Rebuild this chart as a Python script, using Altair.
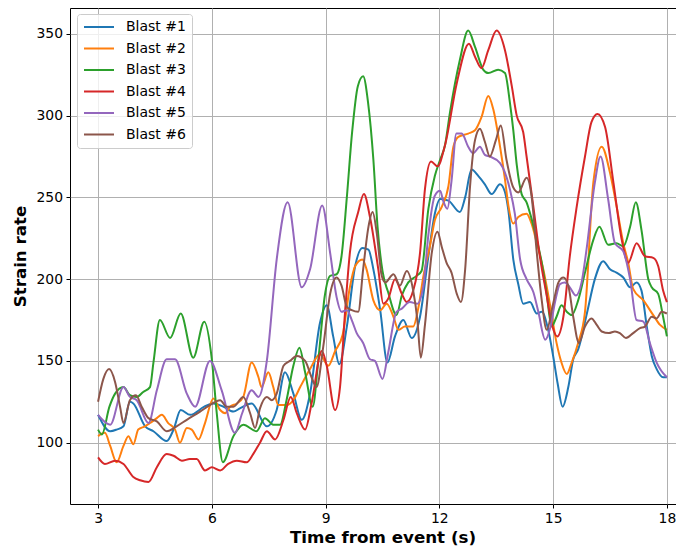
import altair as alt
import pandas as pd

names = ["Blast #1", "Blast #2", "Blast #3", "Blast #4", "Blast #5", "Blast #6"]
colors = ["#1f77b4", "#ff7f0e", "#2ca02c", "#d62728", "#9467bd", "#8c564b"]
x_ticks = [3, 6, 9, 12, 15, 18]
y_ticks = [100, 150, 200, 250, 300, 350]

t1 = [3.0,3.32,3.49,3.67,3.84,3.93,4.24,4.46,4.81,4.99,5.18,5.43,5.80,6.04,6.30,6.57,6.74,7.05,7.45,7.71,7.93,8.15,8.37,8.59,8.85,9.03,9.2,9.36,9.56,9.78,9.97,10.13,10.26,10.44,10.63,10.83,11.05,11.27,11.49,11.71,11.88,12.02,12.24,12.54,12.68,12.85,13.03,13.2,13.38,13.6,13.72,13.82,13.95,14.08,14.21,14.39,14.57,14.70,14.87,15.0,15.12,15.25,15.40,15.53,15.66,15.89,16.10,16.32,16.50,16.67,16.85,17.03,17.20,17.33,17.47,17.60,17.73,17.90,18.0]
v1 = [117,107,108,110,125,124,110,107,101,108,120,117,122,124,122,119,121,124,110,120,143,130,114,130,173,184,165,148,171,208,219,218,206,181,149,165,175,164,177,214,240,249,248,241,250,267,263,258,252,258,254,242,212,197,185,186,179,180,169,153,136,122,134,151,157,179,200,211,206,204,201,195,198,193,171,153,145,140,140]

t2 = [3.0,3.18,3.32,3.49,3.67,3.80,3.93,4.06,4.24,4.37,4.55,4.68,4.85,5.03,5.16,5.34,5.47,5.65,5.82,6.04,6.22,6.35,6.48,6.66,6.83,7.05,7.23,7.31,7.49,7.62,7.75,7.97,8.15,8.33,8.59,8.85,9.07,9.25,9.45,9.64,9.78,9.97,10.08,10.26,10.44,10.61,10.79,10.92,11.09,11.31,11.45,11.58,11.75,11.88,12.06,12.24,12.37,12.5,12.76,12.94,13.11,13.29,13.42,13.6,13.73,13.82,13.95,14.08,14.30,14.43,14.57,14.74,14.92,15.09,15.22,15.36,15.49,15.66,15.84,16.06,16.28,16.5,16.67,16.85,16.98,17.11,17.38,17.64,17.82,18.0]
v2 = [104,106,98,88,98,104,99,108,110,112,115,117,112,108,100,109,108,102,112,127,120,118,122,124,128,149,140,134,143,134,123,123,126,134,145,154,147,156,166,195,208,212,206,187,181,185,177,169,171,171,183,202,220,236,244,257,281,287,289,291,299,312,304,281,261,245,234,238,240,234,222,206,184,161,149,142,149,161,180,259,281,265,245,222,210,194,187,178,172,169]

t3 = [3.0,3.1,3.3,3.45,3.67,3.84,4.02,4.19,4.37,4.46,4.63,4.9,5.18,5.51,5.80,6.0,6.13,6.29,6.57,6.83,7.18,7.40,7.62,7.80,7.97,8.15,8.31,8.46,8.66,8.81,8.98,9.12,9.29,9.42,9.56,9.7,9.85,9.99,10.12,10.26,10.37,10.5,10.65,10.87,11.01,11.18,11.4,11.53,11.71,11.88,12.02,12.15,12.28,12.54,12.76,12.94,13.16,13.29,13.55,13.73,13.86,13.95,14.04,14.17,14.30,14.43,14.57,14.7,14.83,14.96,15.09,15.22,15.36,15.49,15.66,15.84,16.06,16.22,16.45,16.67,16.85,17.03,17.18,17.33,17.51,17.6,17.77,17.9,18.0]
v3 = [108,105,122,130,134,129,128,131,134,149,175,164,179,152,174,151,118,88,104,111,107,115,111,111,126,147,158,143,122,151,190,202,203,214,250,290,318,324,308,273,232,205,192,178,190,198,202,205,243,263,273,282,302,334,352,342,328,326,328,326,308,291,270,252,247,237,224,210,191,171,177,184,180,178,187,204,224,232,221,222,220,232,247,230,200,195,191,177,165]

t4 = [3.0,3.18,3.45,3.67,3.93,4.11,4.33,4.55,4.81,4.99,5.21,5.42,5.60,5.82,6.0,6.22,6.43,6.66,6.92,7.09,7.27,7.45,7.67,7.89,8.08,8.24,8.46,8.63,8.90,9.03,9.25,9.38,9.51,9.64,9.86,10.01,10.17,10.39,10.52,10.65,10.83,11.01,11.14,11.31,11.49,11.62,11.78,11.95,12.15,12.46,12.78,12.94,13.11,13.29,13.51,13.73,13.91,14.04,14.21,14.30,14.48,14.65,14.83,14.96,15.11,15.27,15.44,15.62,15.84,16.01,16.17,16.37,16.59,16.81,16.98,17.2,17.42,17.64,17.77,17.90,18.0]
v4 = [91,87,89,87,79,77,76,85,93,92,89,90,90,83,85,83,87,89,88,93,100,107,102,114,128,118,108,124,156,147,120,134,179,216,241,252,238,206,185,188,200,191,186,193,216,255,272,269,282,320,344,336,329,340,352,340,318,300,290,275,244,214,190,173,165,177,214,244,275,296,301,293,259,224,210,222,214,213,208,193,186]

t5 = [3.0,3.32,3.67,3.84,4.02,4.33,4.55,4.81,5.03,5.34,5.56,5.95,6.26,6.61,6.80,7.05,7.23,7.45,7.71,8.0,8.37,8.59,8.91,9.12,9.29,9.42,9.56,9.69,9.82,9.99,10.17,10.3,10.5,10.65,10.87,11.01,11.22,11.42,11.58,11.71,11.88,12.02,12.1,12.21,12.32,12.45,12.59,12.76,12.89,13.07,13.2,13.33,13.6,13.86,13.99,14.13,14.30,14.48,14.61,14.79,14.92,15.05,15.18,15.31,15.44,15.6,15.75,15.88,16.10,16.25,16.45,16.63,16.85,17.03,17.20,17.38,17.55,17.73,18.0]
v5 = [117,111,134,128,126,112,132,151,151,130,122,150,132,106,118,132,128,150,212,247,195,206,245,216,189,180,181,175,167,161,151,150,139,155,180,182,186,185,196,227,251,254,248,243,260,289,289,281,277,281,276,275,271,255,240,212,200,192,180,163,170,186,197,198,195,190,198,218,259,275,249,222,217,200,175,174,161,149,140]

t6 = [3.0,3.14,3.29,3.45,3.58,3.67,3.84,4.0,4.15,4.33,4.55,4.81,5.07,5.34,5.69,5.95,6.22,6.39,6.57,6.83,7.01,7.14,7.27,7.45,7.58,7.71,7.89,8.06,8.24,8.46,8.63,8.76,8.94,9.12,9.29,9.42,9.56,9.69,9.86,9.99,10.13,10.24,10.35,10.48,10.57,10.79,10.96,11.14,11.31,11.42,11.51,11.62,11.8,11.95,12.06,12.19,12.32,12.46,12.57,12.68,12.81,12.94,13.07,13.2,13.33,13.49,13.62,13.77,13.95,14.08,14.30,14.43,14.57,14.7,14.83,15.0,15.14,15.27,15.4,15.53,15.68,15.84,16.01,16.15,16.28,16.47,16.63,16.76,16.92,17.11,17.29,17.42,17.6,17.73,17.86,18.0]
v6 = [125,139,145,137,122,112,126,129,122,115,113,107,110,114,119,123,126,122,122,128,118,109,121,128,126,130,147,150,153,150,140,134,159,191,201,196,183,181,180,206,232,241,228,202,198,203,196,205,193,175,152,172,216,229,220,210,204,191,186,206,257,285,292,284,275,285,294,273,256,253,262,251,216,187,169,185,198,201,196,177,161,171,176,172,168,167,168,167,164,167,170,171,177,176,180,179]

rows = []
for name, ts, vs in zip(names, [t1, t2, t3, t4, t5, t6], [v1, v2, v3, v4, v5, v6]):
    n = min(len(ts), len(vs))
    for i in range(n):
        rows.append({"t": ts[i], "v": vs[i], "series": name, "order": i})
df = pd.DataFrame(rows)

FONT = "DejaVu Sans"

chart = alt.Chart(df).mark_line(strokeWidth=2, interpolate="monotone", clip=True).encode(
    x=alt.X("t:Q",
            scale=alt.Scale(domain=[2.26, 18.24], nice=False, zero=False),
            axis=alt.Axis(values=x_ticks, format="d", title="Time from event (s)",
                          titleX=312.5, titleY=33, titleBaseline="middle")),
    y=alt.Y("v:Q",
            scale=alt.Scale(domain=[62.5, 365.8], nice=False, zero=False),
            axis=alt.Axis(values=y_ticks, format="d", title="Strain rate",
                          titleX=-50, titleY=248, titleBaseline="middle")),
    color=alt.Color("series:N", title=None,
                    scale=alt.Scale(domain=names, range=colors),
                    legend=alt.Legend(orient="none", legendX=7, legendY=6,
                                      symbolType="stroke", symbolSize=900,
                                      symbolStrokeWidth=2, labelFontSize=14,
                                      labelFont=FONT, labelColor="black",
                                      clipHeight=14,
                                      labelOffset=11, rowPadding=7.5, padding=6,
                                      strokeColor="#cccccc",
                                      fillColor="rgba(255,255,255,0.8)",
                                      cornerRadius=3)),
    order="order:Q",
).properties(
    width=606, height=496,
    autosize=alt.AutoSizeParams(type="none"),
    padding={"left": 62, "top": 0, "right": 0, "bottom": 42},
).configure_view(
    stroke="black", strokeWidth=1
).configure_axis(
    domain=False, tickColor="black", tickSize=4, tickWidth=1,
    labelFont=FONT, labelFontSize=13.9, labelColor="black", labelPadding=3.5,
    gridColor="#b0b0b0", gridWidth=1,
    titleFont=FONT, titleFontSize=16.7, titleFontWeight="bold", titleColor="black",
)

chart.save("out.html", embed_options={"renderer": "svg", "actions": False})
